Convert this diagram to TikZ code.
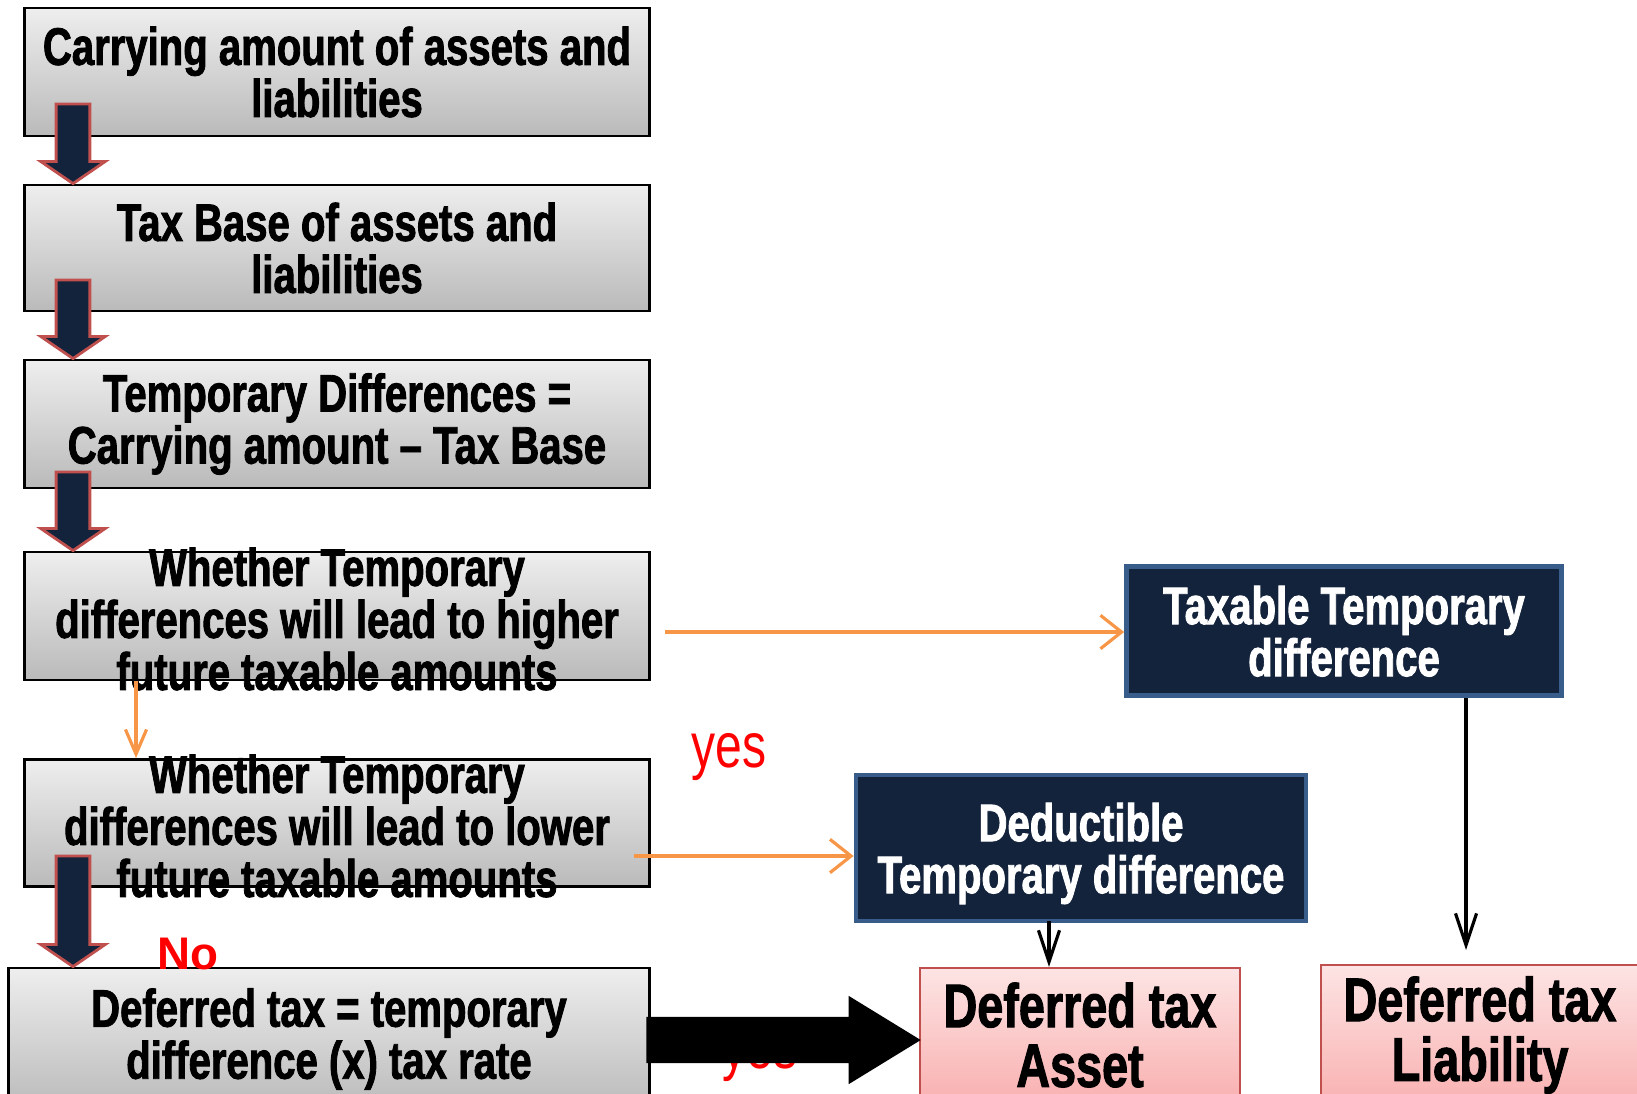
\documentclass[tikz,border=0pt]{standalone}
\usepackage{fontspec}
\usepackage{tikz}
\usetikzlibrary{arrows.meta,calc}
\newfontfamily\flowfont{Liberation Sans}[FakeStretch=0.76,BoldFeatures={FakeBold=1.6}]
\newfontfamily\plainfont{Liberation Sans}
\definecolor{navy}{RGB}{20,35,60}
\definecolor{steel}{RGB}{56,93,138}
\definecolor{arrowred}{RGB}{192,80,77}
\definecolor{flowor}{RGB}{247,150,70}
\definecolor{greytop}{RGB}{238,238,238}
\definecolor{greybot}{RGB}{186,186,186}
\definecolor{pinktop}{RGB}{253,228,228}
\definecolor{pinkbot}{RGB}{249,176,176}

\begin{document}
\begin{tikzpicture}[x=0.01cm,y=-0.01cm,
	greybox/.style={draw=black,line width=0.8pt,top color=greytop,bottom color=greybot,
		minimum width=6.24cm,align=center,inner sep=0pt,
		font=\flowfont\bfseries\fontsize{15}{14.8}\selectfont},
	boxtext/.style={align=center,inner sep=0pt,
		font=\flowfont\bfseries\fontsize{15}{14.8}\selectfont},
	darkbox/.style={draw=steel,line width=1.3pt,fill=navy,text=white,align=center,text depth=0pt,
		font=\flowfont\bfseries\fontsize{15}{14.8}\selectfont},
	pinkbox/.style={draw=arrowred,line width=0.6pt,top color=pinktop,bottom color=pinkbot,
		align=center,font=\flowfont\bfseries\fontsize{17.5}{17}\selectfont},
	answer/.style={text=red,font=\flowfont\fontsize{18}{18}\selectfont},
	nolabel/.style={text=red,font=\plainfont\bfseries\fontsize{13}{13}\selectfont},
	orangeline/.style={draw=flowor,line width=0.9pt},
	blackline/.style={draw=black,line width=0.9pt,-{Straight Barb[length=9pt,width=6pt]}},
	% navy block arrow pointing down, red rim
	downblock/.style={fill=navy,draw=arrowred,line width=0.8pt,
		to path={let \p1=(\tikztostart), \p2=(\tikztotarget) in
			(\x1-4.8pt,\y1) -- (\x1+4.8pt,\y1) -- (\x1+4.8pt,\y2+6.3pt) -- (\x1+9.2pt,\y2+6.3pt)
			-- (\x1,\y2) -- (\x1-9.2pt,\y2+6.3pt) -- (\x1-4.8pt,\y2+6.3pt) -- cycle}},
	% big black block arrow pointing right
	rightblock/.style={fill=black,
		to path={let \p1=(\tikztostart), \p2=(\tikztotarget) in
			(\x1,\y1+6.4pt) -- (\x2-19.9pt,\y1+6.4pt) -- (\x2-19.9pt,\y1+12.2pt) -- (\x2,\y1)
			-- (\x2-19.9pt,\y1-12.2pt) -- (\x2-19.9pt,\y1-6.4pt) -- (\x1,\y1-6.4pt) -- cycle}}]
	% page frame
	\useasboundingbox (0,0) rectangle (1637,1093);
	
	% left column of steps
	\node[greybox,minimum height=1.28cm] (carry) at (337,72) {Carrying amount of assets and\\liabilities};
	\node[greybox,minimum height=1.26cm] (taxbase) at (337,248) {Tax Base of assets and\\liabilities};
	\node[greybox,minimum height=1.28cm] (tempdiff) at (337,424) {Temporary Differences =\\Carrying amount – Tax Base};
	% the questions run over their boxes
	\node[greybox,minimum height=1.28cm] (higher) at (337,616) {};
	\node[boxtext] (higher text) at (337,619) {Whether Temporary\\differences will lead to higher\\future taxable amounts};
	\node[greybox,minimum height=1.27cm] (lower) at (337,823) {};
	\node[boxtext] (lower text) at (337,826) {Whether Temporary\\differences will lead to lower\\future taxable amounts};
	\node[greybox,minimum width=6.40cm,minimum height=1.42cm] (deftax) at (329,1039) {Deferred tax = temporary\\difference (x) tax rate};
	
	% right side outcomes
	\node[darkbox,minimum width=4.35cm,minimum height=1.29cm] (taxable) at (1344,631) {Taxable Temporary\\difference};
	\node[darkbox,minimum width=4.50cm,minimum height=1.46cm] (deduct) at (1081,848) {Deductible\\Temporary difference};
	\node[pinkbox,minimum width=3.19cm,minimum height=1.34cm] (asset) at (1080,1035) {Deferred tax\\Asset};
	\node[pinkbox,minimum width=3.18cm,minimum height=1.34cm] (liab) at (1480,1035) {Deferred tax\\Liability};
	
	% answers
	\node[answer,anchor=base] (yes1) at (729,767) {yes};
	\node[answer,anchor=base] (yes2) at (760,1068) {yes};
	\node[nolabel,anchor=base] (no) at (188,969) {No};
	
	% block arrows down the left column
	\coordinate (a1) at (73,104);
	\coordinate (a2) at (73,280);
	\coordinate (a3) at (73,472);
	\coordinate (a4) at (73,856);
	\draw[downblock] (a1) to (a1 |- taxbase.north);
	\draw[downblock] (a2) to (a2 |- tempdiff.north);
	\draw[downblock] (a3) to (a3 |- higher.north);
	\draw[downblock] (a4) to (a4 |- deftax.north);
	
	% orange decision lines
	\coordinate (o1) at (665,632);
	\coordinate (o2) at (634,856);
	\coordinate (o3) at (136,681);
	\draw[orangeline,-{Straight Barb[length=6pt,width=9.5pt]}] (o1) -- (o1 -| taxable.west);
	\draw[orangeline,-{Straight Barb[length=6pt,width=9.5pt]}] (o2) -- (o2 -| deduct.west);
	\draw[orangeline,-{Straight Barb[length=7pt,width=6pt]}] (o3) -- (o3 |- lower.north);
	
	% black lines to the pink boxes
	\coordinate (t1) at (1466,950);
	\coordinate (d1) at (1049,921);
	\draw[blackline] (taxable.south -| t1) -- (t1);
	\draw[blackline] (d1) -- (d1 |- asset.north);
	
	% big arrow to the asset
	\coordinate (b1) at (647,1040);
	\draw[rightblock] (b1) to (b1 -| asset.west);
\end{tikzpicture}
\end{document}
